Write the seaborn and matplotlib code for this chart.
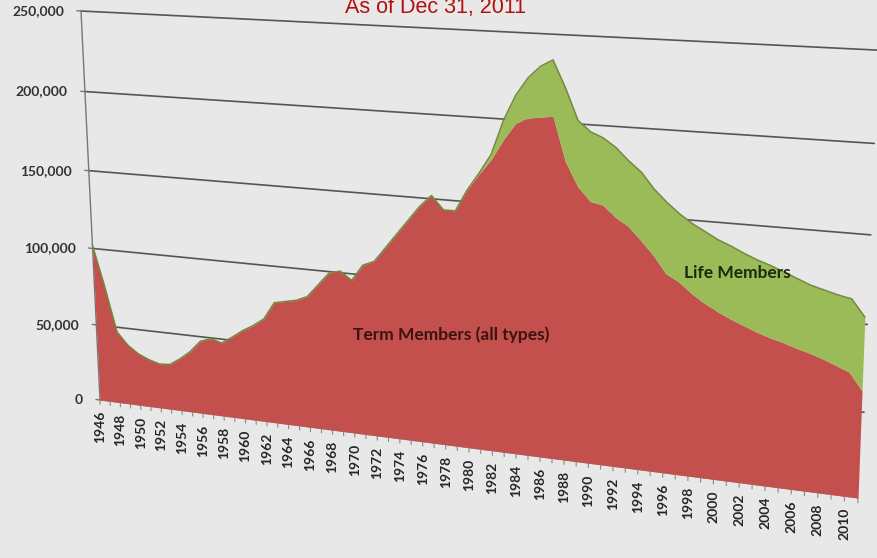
import numpy as np
import matplotlib
matplotlib.use("Agg")
import matplotlib.pyplot as plt
import matplotlib.transforms as mtransforms
import seaborn as sns

# membership counts (as of Dec 31, 2011)
years = np.arange(1946, 2012)
term_members = [
    102000, 76000, 47000, 39000, 34000, 31000, 29000, 29500, 34000, 39500,
    47000, 49500, 47500, 52000, 57000, 61000, 66000, 77000, 78500, 80000,
    83000, 91000, 99000, 101000, 96000, 106000, 109000, 118000, 127000, 136000,
    145000, 152000, 144000, 144000, 157000, 167000, 176000, 188000, 198000, 201500,
    202500, 203500, 178000, 164000, 156000, 154500, 148000, 143500, 136000, 128000,
    118000, 114000, 108000, 103000, 99000, 95500, 92500, 89500, 87000, 85000,
    82500, 80500, 78000, 75000, 72000, 62000,
]
life_members = [
    0, 0, 0, 0, 0, 0, 0, 0, 0, 0,
    0, 0, 0, 0, 0, 0, 0, 0, 0, 0,
    0, 0, 0, 0, 0, 0, 0, 0, 0, 0,
    0, 0, 0, 0, 0, 500, 3000, 11000, 16000, 23000,
    29000, 32000, 42000, 38000, 40000, 38500, 40000, 37500, 39000, 38000,
    41000, 39000, 40000, 41000, 41000, 41500, 41000, 41000, 41000, 40000,
    39500, 38500, 39000, 40000, 41500, 42000,
]
y_ticks = [0, 50000, 100000, 150000, 200000, 250000]
x_labels = list(range(1946, 2011, 2))

term = np.array(term_members, float)
total = term + np.array(life_members, float)

W, H = 877, 558
sns.set_theme(style="white", rc={"figure.facecolor": "#e8e8e8",
                                 "axes.facecolor": "#e8e8e8"})
plt.rcParams["font.family"] = ["Lato", "DejaVu Sans"]

fig = plt.figure(figsize=(W / 100, H / 100), dpi=100)
ax = fig.add_axes([0, 0, 1, 1])


# 3-D look: project the (year, value) plane with a perspective mapping
def homography(src, dst):
    A, b = [], []
    for (u, w), (x, y) in zip(src, dst):
        A.append([u, w, 1, 0, 0, 0, -u * x, -w * x]); b.append(x)
        A.append([0, 0, 0, u, w, 1, -u * y, -w * y]); b.append(y)
    h = np.linalg.solve(np.array(A, float), np.array(b, float))
    return np.append(h, 1).reshape(3, 3)


class Perspective(mtransforms.Transform):
    input_dims = output_dims = 2

    def __init__(self, hm, x0, xspan, ymax):
        super().__init__()
        self.hm, self.x0, self.xspan, self.ymax = hm, x0, xspan, ymax

    def transform_non_affine(self, values):
        v = np.asarray(values, float).reshape(-1, 2)
        u = (v[:, 0] - self.x0) / self.xspan
        w = v[:, 1] / self.ymax
        p = np.column_stack([u, w, np.ones_like(u)]) @ self.hm.T
        return p[:, :2] / p[:, 2:3]


corners_px = [(100, 400), (81, 11), (858, 498), (875, 50)]
corners = [(x / W, 1 - y / H) for x, y in corners_px]
hm = homography([(0, 0), (0, 1), (1, 0), (1, 1)], corners)
T = Perspective(hm, 1946, 65, 250000) + fig.transFigure

# gridlines and axes
for v in y_ticks[1:]:
    ax.plot([1946, 2011.2], [v, v], transform=T, color="#555555", lw=1.2, zorder=1)
ax.plot([1946, 1946], [0, 250000], transform=T, color="#777777", lw=1, zorder=1)
ax.plot([1946, 2011], [0, 0], transform=T, color="#8a8a8a", lw=0.8, zorder=1)
for v in y_ticks:
    ax.plot([1945.6, 1946], [v, v], transform=T, color="#777777", lw=1, zorder=1)
    ax.text(1946, v, f"{v:,}", ha="right", va="center", fontsize=10,
            fontweight="bold", color="#333333",
            transform=mtransforms.offset_copy(T, fig, x=-17, y=0, units="dots"))
ax.vlines(years, -3000, 0, transform=T, color="#8a8a8a", lw=0.8, zorder=1)
for yr in x_labels:
    ax.text(yr, 0, str(yr), rotation=90, ha="center", va="top", fontsize=10,
            fontweight="bold", color="#262626",
            transform=mtransforms.offset_copy(T, fig, x=0, y=-11, units="dots"))

# stacked areas
ax.fill_between(years, 0, term, transform=T, color="#C4504D", lw=0, zorder=2)
ax.fill_between(years, term, total, transform=T, color="#9BBB59", lw=0, zorder=2)
sns.lineplot(x=years, y=total, ax=ax, color="#74893f", lw=1.1, transform=T,
             legend=False, errorbar=None, zorder=3)

ax.text(1978.6, 69000, "Term Members (all types)", transform=T, ha="center",
        va="center", fontsize=12.5, fontweight="bold", color="#3b1410", zorder=4)
ax.text(2001.5, 122000, "Life Members", transform=T, ha="center", va="center",
        fontsize=12.5, fontweight="bold", color="#1c2a0c", zorder=4)

fig.text(435.5 / W, 1 - 13 / H, "As of Dec 31, 2011", ha="center", va="baseline",
         fontsize=15.5, color="#b40f0f", family="Liberation Sans")

ax.set_axis_off()
fig.savefig("out.png", dpi=100, facecolor=fig.get_facecolor())
